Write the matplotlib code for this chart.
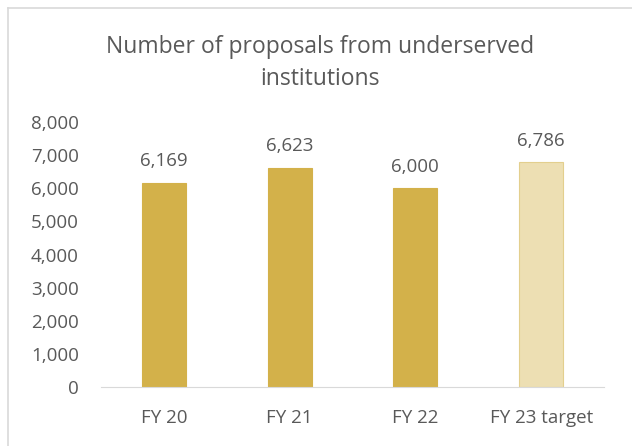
import matplotlib.pyplot as plt
from matplotlib.lines import Line2D

categories = ["FY 20", "FY 21", "FY 22", "FY 23 target"]
values = [6169, 6623, 6000, 6786]
is_target = [False, False, False, True]
yticks = [0, 1000, 2000, 3000, 4000, 5000, 6000, 7000, 8000]

plt.rcParams['font.family'] = ['Open Sans', 'DejaVu Sans']
grey = '#595959'

W, H = 632, 446
fig = plt.figure(figsize=(W / 100, H / 100), dpi=100)
ax = fig.add_axes([101 / W, 59 / H, 503 / W, 265 / H])

colors = ['#EDDFB3' if t else '#D3B14A' for t in is_target]
edges = ['#E3CF8E' if t else '#D3B14A' for t in is_target]
x = range(len(categories))
bars = ax.bar(x, values, width=0.35, color=colors, edgecolor=edges, linewidth=0.8)

for xi, v in zip(x, values):
    ax.annotate(f"{v:,}", (xi, v), xytext=(0, 9), textcoords='offset points',
                ha='center', va='bottom', fontsize=13.5, color=grey)

ax.set_xlim(-0.5, 3.5)
ax.set_ylim(0, 8000)
ax.set_yticks(yticks)
ax.set_yticklabels([f"{t:,}" for t in yticks])
ax.set_xticks(list(x))
ax.set_xticklabels(categories)
ax.tick_params(axis='both', length=0, labelsize=13.5, labelcolor=grey)
ax.tick_params(axis='y', pad=16)
ax.tick_params(axis='x', pad=16)
for s in ['top', 'right', 'left']:
    ax.spines[s].set_visible(False)
ax.spines['bottom'].set_color('#D9D9D9')

fig.text(320 / W, 1 - 47 / H, "Number of proposals from underserved",
         ha='center', va='center', fontsize=16.5, color=grey)
fig.text(320 / W, 1 - 79 / H, "institutions",
         ha='center', va='center', fontsize=16.5, color=grey)

# outer frame (only left and top edges visible in the crop)
fig.add_artist(Line2D([7.5 / W, 7.5 / W], [0, 1 - 7.5 / H], transform=fig.transFigure,
                      color='#D9D9D9', lw=1.2))
fig.add_artist(Line2D([7.5 / W, 1], [1 - 7.5 / H, 1 - 7.5 / H], transform=fig.transFigure,
                      color='#D9D9D9', lw=1.2))

fig.savefig("out.png", dpi=100)
